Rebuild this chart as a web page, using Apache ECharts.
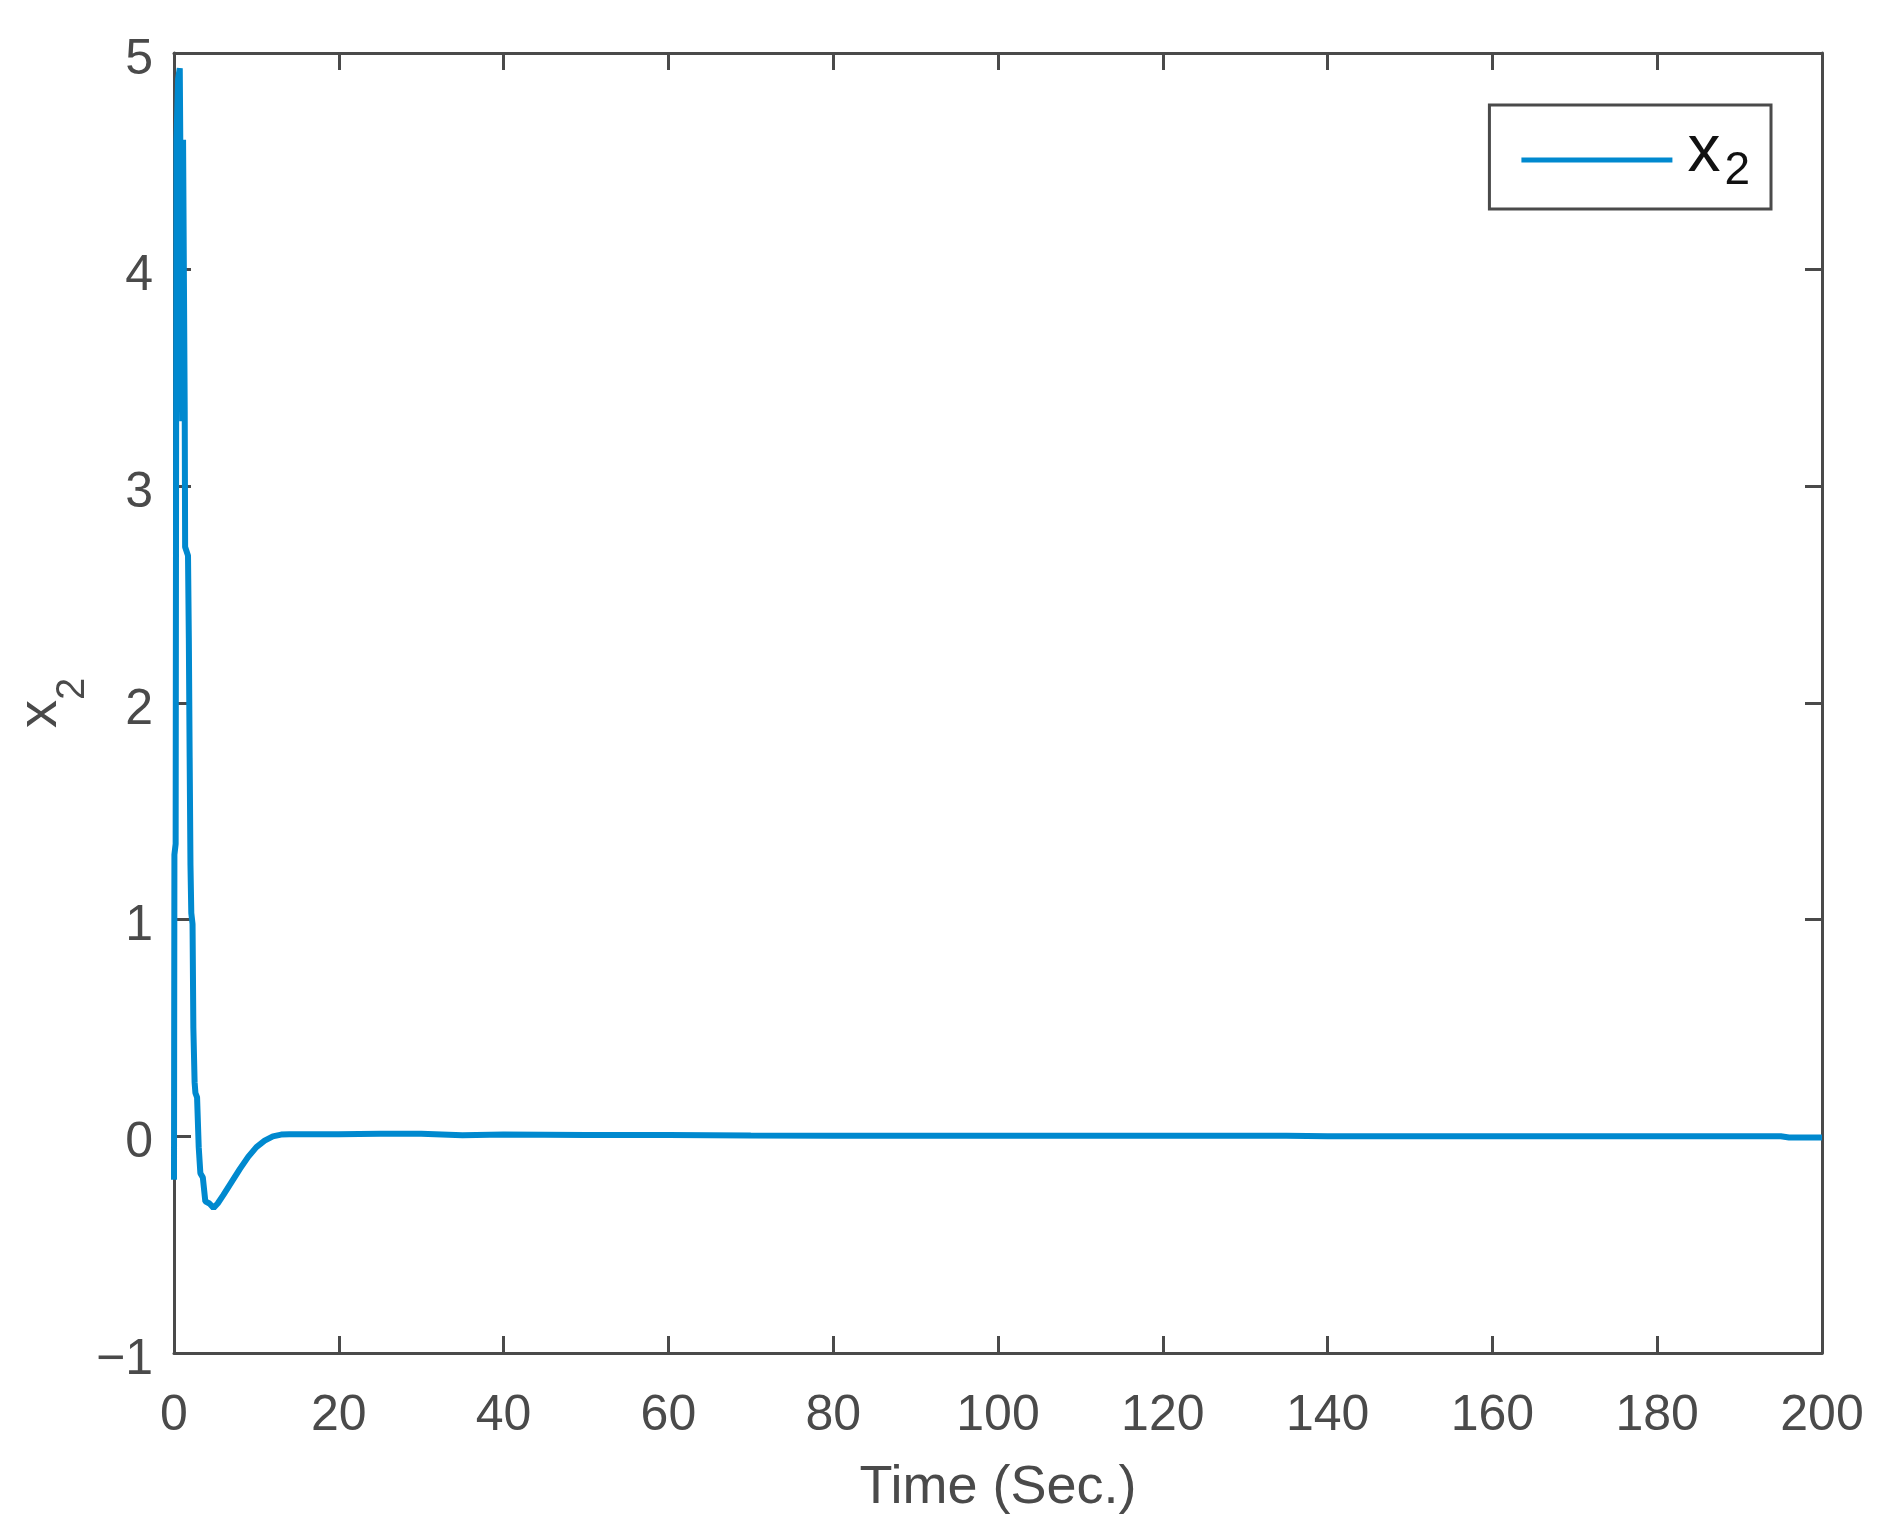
<!DOCTYPE html>
<html>
<head>
<meta charset="utf-8">
<script src="https://cdn.jsdelivr.net/npm/echarts@6/dist/echarts.min.js"></script>
<style>html,body{margin:0;padding:0;background:#fff}#c{width:1888px;height:1532px}</style>
</head>
<body>
<div id="c"></div>
<script>
const timeData = [0, 0.05, 0.2, 0.3, 0.5, 0.7, 0.9, 1.0, 1.1, 1.3, 1.35, 1.7, 1.8, 1.9, 2.0, 2.1, 2.25, 2.35, 2.5, 2.6, 2.8, 3.0, 3.2, 3.5, 3.8, 4.3, 4.8, 5.3, 6, 7, 8, 9, 10, 11, 12, 13, 14, 20, 25, 30, 35, 40, 50, 60, 70, 80, 100, 120, 135, 140, 180, 195, 196, 200];
const x2Data = [-0.2, 1.3, 1.35, 4.6, 4.88, 4.93, 4.93, 3.3, 4.6, 3.35, 2.72, 2.68, 2.3, 1.75, 1.25, 1.03, 0.98, 0.5, 0.25, 0.2, 0.18, -0.05, -0.17, -0.19, -0.3, -0.31, -0.33, -0.31, -0.27, -0.21, -0.15, -0.095, -0.05, -0.02, 0.0, 0.008, 0.01, 0.01, 0.012, 0.012, 0.005, 0.008, 0.006, 0.006, 0.004, 0.003, 0.003, 0.003, 0.003, 0.0, 0.0, 0.0, -0.005, -0.005];
const xTicks = {min: 0, max: 200, interval: 20};
const yTicks = {min: -1, max: 5, interval: 1};

const axisColor = '#4a4a4a';
const font = 'Liberation Sans, Arial, Helvetica, sans-serif';
const chart = echarts.init(document.getElementById('c'));
const pts = timeData.map((t, i) => [t, x2Data[i]]);
const axLine = {show: true, onZero: false, lineStyle: {color: axisColor, width: 3}};
const axTick = {show: true, inside: true, length: 17, lineStyle: {color: axisColor, width: 3}};
chart.setOption({
  backgroundColor: '#fff',
  animation: false,
  grid: {left: 174, right: 66, top: 53, bottom: 179, containLabel: false, outerBoundsMode: 'none'},
  legend: {
    right: 117, top: 105,
    padding: [15, 21, 15, 32],
    borderColor: axisColor, borderWidth: 3, backgroundColor: '#fff',
    icon: 'rect', itemWidth: 151, itemHeight: 5,
    formatter: function () { return '{a|x}{b|2}'; },
    textStyle: {
      rich: {
        a: {fontFamily: font, fontSize: 66, lineHeight: 80, color: '#111', padding: [0, 4, 0, 10], verticalAlign: 'top'},
        b: {fontFamily: font, fontSize: 46, lineHeight: 46, color: '#111', padding: [28, 0, 0, 0], verticalAlign: 'top'}
      }
    },
    data: ['x2']
  },
  xAxis: [{
    type: 'value', min: xTicks.min, max: xTicks.max, interval: xTicks.interval,
    position: 'bottom',
    axisLine: axLine, axisTick: axTick, splitLine: {show: false},
    axisLabel: {color: axisColor, fontFamily: font, fontSize: 50, margin: 38},
    name: 'Time (Sec.)', nameLocation: 'middle', nameGap: 108, nameMoveOverlap: false,
    nameTextStyle: {color: axisColor, fontFamily: font, fontSize: 54}
  }, {
    type: 'value', min: xTicks.min, max: xTicks.max, interval: xTicks.interval,
    position: 'top',
    axisLine: axLine, axisTick: axTick, splitLine: {show: false},
    axisLabel: {show: false}
  }],
  yAxis: [{
    type: 'value', min: yTicks.min, max: yTicks.max, interval: yTicks.interval,
    position: 'left',
    axisLine: axLine, axisTick: axTick, splitLine: {show: false},
    axisLabel: {margin: 21,
      formatter: v => '{v|' + String(v).replace('-', '\u2212') + '}',
      rich: {v: {color: axisColor, fontFamily: font, fontSize: 50, lineHeight: 50, padding: [14, 0, 0, 0]}}},
    name: '{a|x}{b|2}', nameLocation: 'middle', nameGap: 105, nameRotate: 90, nameMoveOverlap: false,
    nameTextStyle: {
      rich: {
        a: {fontFamily: font, fontSize: 56, lineHeight: 56, color: axisColor, verticalAlign: 'top'},
        b: {fontFamily: font, fontSize: 40, lineHeight: 40, color: axisColor, padding: [40, 0, 0, 0], verticalAlign: 'top'}
      }
    }
  }, {
    type: 'value', min: yTicks.min, max: yTicks.max, interval: yTicks.interval,
    position: 'right',
    axisLine: axLine, axisTick: axTick, splitLine: {show: false},
    axisLabel: {show: false}
  }],
  series: [{
    name: 'x2', type: 'line', data: pts, showSymbol: false, symbol: 'none',
    lineStyle: {color: '#0089cf', width: 6},
    itemStyle: {color: '#0089cf'},
    clip: true
  }]
});
</script>
</body>
</html>
